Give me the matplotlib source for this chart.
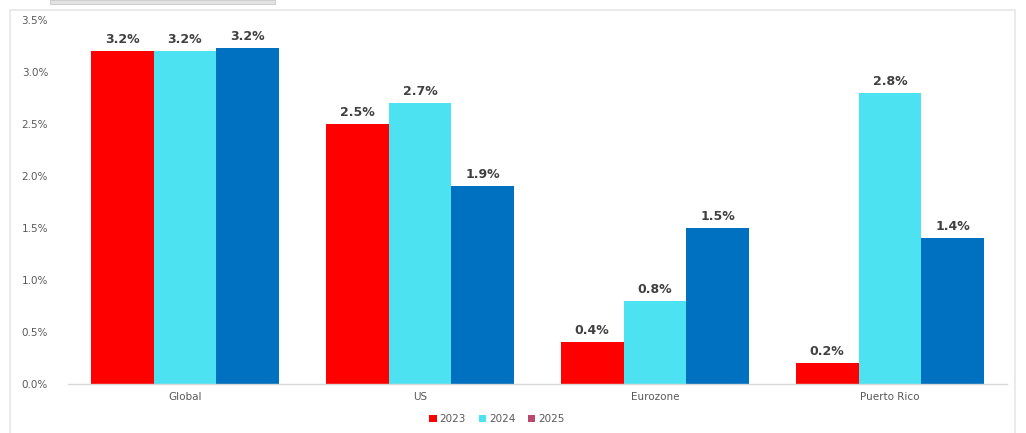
import numpy as np
import matplotlib
matplotlib.use("Agg")
import matplotlib.pyplot as plt
from matplotlib.patches import Rectangle, Patch

# data
regions = ["Global", "US", "Eurozone", "Puerto Rico"]
years = ["2023", "2024", "2025"]
growth_2023 = [3.2, 2.5, 0.4, 0.2]
growth_2024 = [3.2, 2.7, 0.8, 2.8]
growth_2025 = [3.23, 1.9, 1.5, 1.4]
y_ticks = [0.0, 0.5, 1.0, 1.5, 2.0, 2.5, 3.0, 3.5]

bar_colors = ["#FF0000", "#4DE2F1", "#0070C0"]
legend_colors = ["#FF0000", "#4DE2F1", "#B84A6C"]

fig = plt.figure(figsize=(10.26, 4.33), dpi=100)

# light frame and tab remnant around the chart
fig.patches.append(Rectangle((10 / 1026, -0.01), 1005 / 1026, 1 - 10 / 433 + 0.01,
                             transform=fig.transFigure, fill=False,
                             edgecolor="#e6e6e6", linewidth=1.2))
fig.patches.append(Rectangle((50 / 1026, 1 - 4 / 433), 225 / 1026, 4 / 433,
                             transform=fig.transFigure, facecolor="#e4e4e4",
                             edgecolor="#cfcfcf", linewidth=0.8))

ax = fig.add_axes([67.5 / 1026, 1 - 384 / 433, 940 / 1026, 364 / 433])

x = np.arange(len(regions))
w = 0.268
series = [growth_2023, growth_2024, growth_2025]
for i, vals in enumerate(series):
    pos = x + (i - 1) * w
    ax.bar(pos, vals, width=w, color=bar_colors[i], edgecolor="none", zorder=2)
    for px, v in zip(pos, vals):
        ax.text(px, v + 0.05, f"{v:.1f}%", ha="center", va="bottom",
                fontsize=9, fontweight="bold", color="#404040")

ax.set_xlim(-0.5, len(regions) - 0.5)
ax.set_ylim(0, 3.5)
ax.set_yticks(y_ticks)
ax.set_yticklabels([f"{t:.1f}%" for t in y_ticks])
ax.set_xticks(x)
ax.set_xticklabels(regions)
ax.tick_params(axis="both", length=0, labelsize=7.5, labelcolor="#595959")
ax.tick_params(axis="y", pad=14)
ax.tick_params(axis="x", pad=6)

for side in ["top", "right", "left"]:
    ax.spines[side].set_visible(False)
ax.spines["bottom"].set_color("#d9d9d9")
ax.spines["bottom"].set_linewidth(1)

handles = [Patch(facecolor=c, edgecolor="none") for c in legend_colors]
fig.legend(handles, years, loc="center", bbox_to_anchor=(497 / 1026, 1 - 419 / 433),
           ncol=3, frameon=False, fontsize=7.5, labelcolor="#595959",
           handlelength=0.7, handleheight=0.6, handletextpad=0.3, columnspacing=1.2)

fig.savefig("out.png", dpi=100)
